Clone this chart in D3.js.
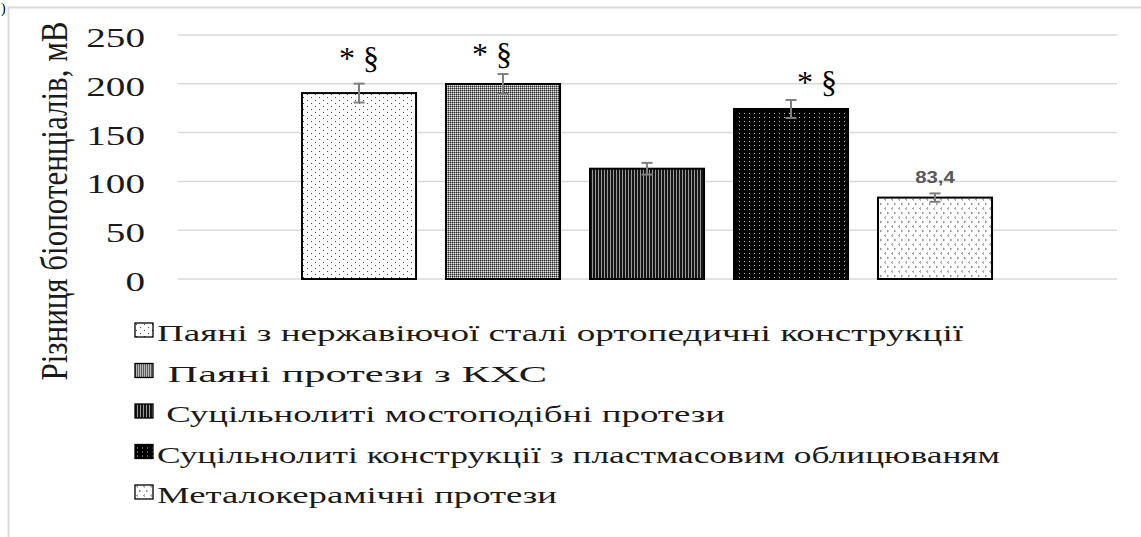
<!DOCTYPE html>
<html>
<head>
<meta charset="utf-8">
<script src="https://cdn.jsdelivr.net/npm/d3@7"></script>
<style>
  body { margin: 0; background: #fff; }
  svg { display: block; }
</style>
</head>
<body>
<div id="chart"></div>
<script>
// ---- data ----
const categories = [""];
const seriesNames = [
  "Паяні з нержавіючої сталі ортопедичні конструкції",
  " Паяні протези з КХС",
  " Суцільнолиті мостоподібні протези",
  "Суцільнолиті конструкції з пластмасовим облицюваням",
  "Металокерамічні протези"
];
const seriesValues = [190.5, 199.8, 113, 174.2, 83.4];
const seriesErrors = [9.7, 10.2, 6, 9.2, 4.3];
const seriesMarks = ["* §", "* §", "", "* §", ""];
const dataLabels = ["", "", "", "", "83,4"];
const yTicks = [0, 50, 100, 150, 200, 250];
const yTitle = "Різниця біопотенціалів, мВ";

// ---- layout ----
const width = 1141, height = 537;
const plot = {left: 178, right: 1117, top: 35, bottom: 279};
const stretch = 1.45;          // the source picture is widened horizontally
const serif = "'Liberation Serif'";
const sans = "'Liberation Sans'";
const markOffsets = [[0, -15], [-11, -9], [0, 0], [26, -7], [0, 0]];
const legendWidths = [806, 390, 568, 843, 400];

const svg = d3.select("#chart").append("svg")
  .attr("width", width)
  .attr("height", height)
  .attr("viewBox", `0 0 ${width} ${height}`);

// ---- patterns ----
const defs = svg.append("defs");

function pattern(id, w, h, bg, draw) {
  const p = defs.append("pattern")
    .attr("id", id)
    .attr("patternUnits", "userSpaceOnUse")
    .attr("width", w)
    .attr("height", h);
  p.append("rect").attr("width", w).attr("height", h).attr("fill", bg);
  draw(p);
}
function px(p, pts, color) {
  pts.forEach(([x, y]) => p.append("rect").attr("x", x).attr("y", y)
    .attr("width", 1).attr("height", 1).attr("fill", color));
}

pattern("pat0", 8, 6, "#fff", p => px(p, [[1, 1], [5, 4]], "#444"));
pattern("pat1", 2, 2, "#8a8a8a", p => {
  px(p, [[0, 0]], "#2a2a2a");
  px(p, [[1, 1]], "#e8e8e8");
});
pattern("pat2", 3, 4, "#151515", p => {
  p.append("rect").attr("x", 2).attr("width", 1).attr("height", 4).attr("fill", "#9a9a9a");
});
pattern("pat3", 5, 4, "#000", p => px(p, [[2, 1]], "#c8c8c8"));
pattern("pat4", 7, 9, "#fff", p => {
  p.append("path").attr("d", "M3,0.5 L1.5,1.5 L3,2.5 M4,5 L5.5,6 L4,7")
    .attr("fill", "none").attr("stroke", "#777").attr("stroke-width", 0.9);
});

// ---- scales ----
const x0 = d3.scaleBand()
  .domain(categories)
  .range([plot.left, plot.right])
  .paddingOuter(0.1804);

const x1 = d3.scaleBand()
  .domain(d3.range(seriesNames.length))
  .range([0, x0.bandwidth()])
  .paddingInner(0.208)
  .paddingOuter(0);

const y = d3.scaleLinear()
  .domain([0, 250])
  .range([plot.bottom, plot.top]);

// ---- frame ----
svg.append("path")
  .attr("d", `M8.5,${height} V7.5 H${width}`)
  .attr("fill", "none")
  .attr("stroke", "#d9d9d9")
  .attr("stroke-width", 2);

svg.append("text")
  .style("font-family", serif)
  .attr("x", 1).attr("y", 13)
  .attr("font-size", 14)
  .text(")");

// ---- gridlines & y axis labels ----
svg.append("g").selectAll("line")
  .data(yTicks)
  .join("line")
  .attr("x1", plot.left).attr("x2", plot.right)
  .attr("y1", d => y(d)).attr("y2", d => y(d))
  .attr("stroke", "#d9d9d9")
  .attr("stroke-width", 1.5);

svg.append("g").selectAll("text")
  .data(yTicks)
  .join("text")
  .style("font-family", serif)
  .attr("transform", d => `translate(145,${y(d) + 12}) scale(${stretch},1)`)
  .attr("text-anchor", "end")
  .attr("font-size", 27)
  .attr("fill", "#1a1a1a")
  .text(d => d);

svg.append("text")
  .style("font-family", serif)
  .attr("transform", `translate(67,201) scale(1.2,1) rotate(-90)`)
  .attr("text-anchor", "middle")
  .attr("font-size", 31)
  .attr("fill", "#1a1a1a")
  .text(yTitle);

// ---- bars ----
const rows = seriesNames.map((name, i) => ({
  i, name,
  value: seriesValues[i],
  err: seriesErrors[i],
  mark: seriesMarks[i],
  label: dataLabels[i]
}));

const group = svg.append("g")
  .attr("transform", `translate(${Math.round(x0(categories[0]))},0)`);

group.selectAll("rect.bar")
  .data(rows)
  .join("rect")
  .attr("class", "bar")
  .attr("x", d => x1(d.i))
  .attr("y", d => y(d.value))
  .attr("width", x1.bandwidth())
  .attr("height", d => y(0) - y(d.value))
  .attr("fill", d => `url(#pat${d.i})`)
  .attr("stroke", "#000")
  .attr("stroke-width", 2);

// error bars
const eb = group.selectAll("g.err")
  .data(rows)
  .join("g")
  .attr("class", "err")
  .attr("stroke", "#7f7f7f")
  .attr("stroke-width", 2);
eb.append("line")
  .attr("x1", d => x1(d.i) + x1.bandwidth() / 2)
  .attr("x2", d => x1(d.i) + x1.bandwidth() / 2)
  .attr("y1", d => y(d.value + d.err))
  .attr("y2", d => y(d.value - d.err));
[1, -1].forEach(s => {
  eb.append("line")
    .attr("x1", d => x1(d.i) + x1.bandwidth() / 2 - 5.5)
    .attr("x2", d => x1(d.i) + x1.bandwidth() / 2 + 5.5)
    .attr("y1", d => y(d.value + s * d.err))
    .attr("y2", d => y(d.value + s * d.err));
});

// significance marks
group.selectAll("text.mark")
  .data(rows.filter(d => d.mark))
  .join("text")
  .attr("class", "mark")
  .style("font-family", serif)
  .attr("xml:space", "preserve")
  .attr("x", d => x1(d.i) + x1.bandwidth() / 2 + markOffsets[d.i][0])
  .attr("y", d => y(d.value + d.err) + markOffsets[d.i][1])
  .attr("text-anchor", "middle")
  .attr("font-size", 32)
  .text(d => d.mark);

// data labels
group.selectAll("text.dlabel")
  .data(rows.filter(d => d.label))
  .join("text")
  .attr("class", "dlabel")
  .style("font-family", sans)
  .attr("transform", d => `translate(${x1(d.i) + x1.bandwidth() / 2},${y(d.value + d.err) - 10}) scale(1.2,1)`)
  .attr("text-anchor", "middle")
  .attr("font-size", 17)
  .attr("font-weight", "bold")
  .attr("fill", "#595959")
  .text(d => d.label);

// ---- legend ----
const legend = svg.append("g").selectAll("g")
  .data(rows)
  .join("g")
  .attr("transform", d => `translate(135,${341 + d.i * 40.5})`);

legend.append("rect")
  .attr("x", 0).attr("y", -18)
  .attr("width", 18).attr("height", 14)
  .attr("fill", d => `url(#pat${d.i})`)
  .attr("stroke", "#000")
  .attr("stroke-width", 1.3);

legend.append("text")
  .style("font-family", serif)
  .attr("xml:space", "preserve")
  .attr("x", 22)
  .attr("textLength", d => legendWidths[d.i])
  .attr("lengthAdjust", "spacingAndGlyphs")
  .attr("font-size", 24)
  .attr("fill", "#1a1a1a")
  .text(d => d.name);
</script>
</body>
</html>
